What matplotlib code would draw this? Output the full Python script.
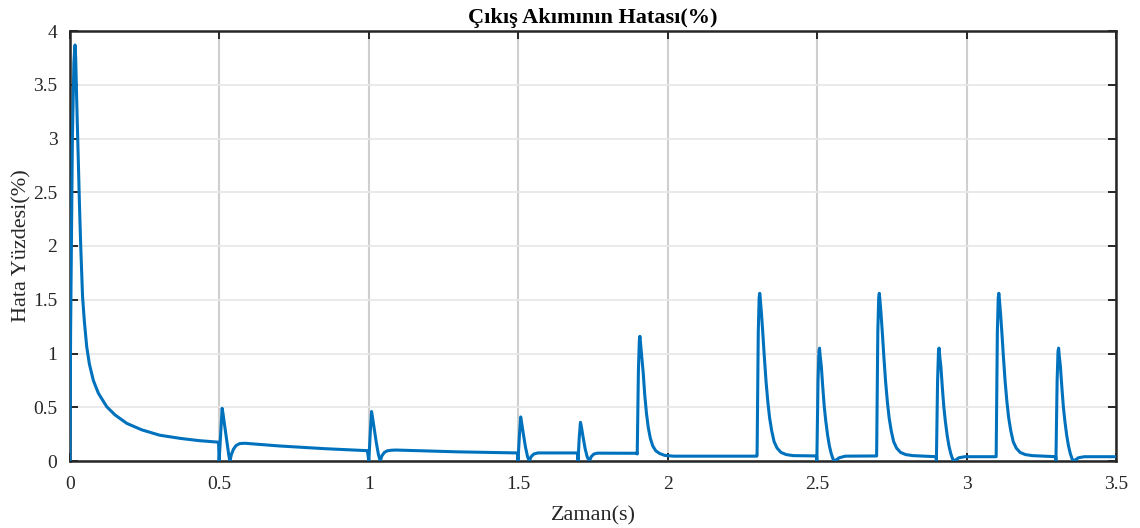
import matplotlib
matplotlib.use("Agg")
import matplotlib.pyplot as plt

# Time points (s) and error values (%)
time_s = [
    # start-up transient
    0.0, 0.002, 0.008, 0.013, 0.015, 0.017, 0.019, 0.022, 0.028, 0.032, 0.036, 0.042, 0.048,
    0.056, 0.065, 0.078, 0.095, 0.123, 0.15, 0.19, 0.24, 0.30, 0.37, 0.43, 0.497,
    # event at 0.5 s
    0.499, 0.505, 0.509, 0.512, 0.518, 0.525, 0.531, 0.535, 0.540, 0.547, 0.556, 0.568,
    0.585, 0.70, 0.85, 0.995,
    # event at 1.0 s
    1.000, 1.005, 1.009, 1.012, 1.018, 1.025, 1.032, 1.038, 1.044, 1.052, 1.062, 1.075,
    1.09, 1.30, 1.497,
    # event at 1.5 s
    1.499, 1.504, 1.508, 1.511, 1.517, 1.524, 1.531, 1.537, 1.543, 1.552, 1.565, 1.698,
    # event at 1.7 s
    1.700, 1.704, 1.708, 1.711, 1.717, 1.724, 1.731, 1.738, 1.744, 1.753, 1.765, 1.897,
    # event at 1.9 s
    1.898, 1.902, 1.905, 1.907, 1.909, 1.913, 1.918, 1.923, 1.929, 1.935, 1.942, 1.950,
    1.960, 1.973, 1.99, 2.02, 2.2, 2.298,
    # event at 2.3 s
    2.299, 2.303, 2.306, 2.308, 2.310, 2.314, 2.318, 2.323, 2.329, 2.335, 2.341, 2.348,
    2.356, 2.366, 2.379, 2.396, 2.42, 2.498,
    # event at 2.5 s
    2.499, 2.503, 2.506, 2.508, 2.510, 2.514, 2.519, 2.524, 2.529, 2.535, 2.541, 2.547,
    2.553, 2.558, 2.565, 2.574, 2.594, 2.698,
    # event at 2.7 s
    2.699, 2.703, 2.706, 2.708, 2.710, 2.714, 2.718, 2.723, 2.729, 2.735, 2.741, 2.748,
    2.756, 2.766, 2.779, 2.796, 2.82, 2.898,
    # event at 2.9 s
    2.899, 2.903, 2.906, 2.908, 2.910, 2.914, 2.919, 2.924, 2.929, 2.935, 2.941, 2.947,
    2.953, 2.958, 2.965, 2.974, 2.994, 3.098,
    # event at 3.1 s
    3.099, 3.103, 3.106, 3.108, 3.110, 3.114, 3.118, 3.123, 3.129, 3.135, 3.141, 3.148,
    3.156, 3.166, 3.179, 3.196, 3.22, 3.298,
    # event at 3.3 s
    3.299, 3.303, 3.306, 3.308, 3.310, 3.314, 3.319, 3.324, 3.329, 3.335, 3.341, 3.347,
    3.353, 3.358, 3.365, 3.374, 3.394, 3.5,
]
error_pct = [
    0.0, 1.2, 3.0, 3.7, 3.8, 3.87, 3.75, 3.4, 2.77, 2.35, 1.99, 1.53, 1.3,
    1.06, 0.9, 0.75, 0.63, 0.505, 0.43, 0.35, 0.29, 0.24, 0.21, 0.19, 0.175,
    0.0, 0.30, 0.49, 0.44, 0.32, 0.18, 0.06, 0.0, 0.06, 0.11, 0.145, 0.162,
    0.165, 0.14, 0.115, 0.096,
    0.0, 0.28, 0.46, 0.41, 0.30, 0.17, 0.06, 0.0, 0.05, 0.08, 0.095, 0.10,
    0.102, 0.085, 0.075,
    0.0, 0.25, 0.41, 0.36, 0.25, 0.13, 0.04, 0.0, 0.04, 0.065, 0.075, 0.075,
    0.0, 0.22, 0.36, 0.32, 0.22, 0.11, 0.035, 0.0, 0.04, 0.065, 0.073, 0.072,
    0.065, 0.85, 1.12, 1.16, 1.10, 0.98, 0.82, 0.62, 0.44, 0.31, 0.21, 0.14,
    0.095, 0.07, 0.052, 0.045, 0.045, 0.045,
    0.05, 1.2, 1.52, 1.56, 1.50, 1.36, 1.20, 0.98, 0.74, 0.55, 0.40, 0.28,
    0.18, 0.12, 0.08, 0.06, 0.05, 0.047,
    0.0, 0.75, 1.02, 1.05, 0.98, 0.88, 0.68, 0.50, 0.37, 0.24, 0.14, 0.07,
    0.02, 0.0, 0.012, 0.03, 0.045, 0.047,
    0.047, 1.2, 1.52, 1.56, 1.50, 1.36, 1.20, 0.98, 0.74, 0.55, 0.40, 0.28,
    0.18, 0.12, 0.08, 0.06, 0.05, 0.04,
    0.0, 0.75, 1.02, 1.05, 0.98, 0.88, 0.68, 0.50, 0.37, 0.24, 0.14, 0.07,
    0.02, 0.0, 0.012, 0.03, 0.04, 0.04,
    0.04, 1.2, 1.52, 1.56, 1.50, 1.36, 1.20, 0.98, 0.74, 0.55, 0.40, 0.28,
    0.18, 0.12, 0.08, 0.06, 0.05, 0.04,
    0.0, 0.75, 1.02, 1.05, 0.98, 0.88, 0.68, 0.50, 0.37, 0.24, 0.14, 0.07,
    0.02, 0.0, 0.012, 0.03, 0.04, 0.04,
]

x_ticks = [0, 0.5, 1, 1.5, 2, 2.5, 3, 3.5]
x_tick_labels = ["0", "0.5", "1", "1.5", "2", "2.5", "3", "3.5"]
y_ticks = [0, 0.5, 1, 1.5, 2, 2.5, 3, 3.5, 4]
y_tick_labels = ["0", "0.5", "1", "1.5", "2", "2.5", "3", "3.5", "4"]

title_text = "Çıkış Akımının Hatası(%)"
x_label = "Zaman(s)"
y_label = "Hata Yüzdesi(%)"

plt.rcParams["font.family"] = ["Liberation Serif", "DejaVu Serif"]

fig = plt.figure(figsize=(11.4, 5.28), dpi=100)
ax = fig.add_axes([70 / 1140, 1 - 461 / 528, (1116 - 70) / 1140, (461 - 31) / 528])

ax.plot(time_s, error_pct, color="#0072BD", linewidth=2.2, zorder=3,
        solid_joinstyle="round")

ax.set_xlim(0, 3.5)
ax.set_ylim(0, 4)
ax.set_xticks(x_ticks)
ax.set_xticklabels(x_tick_labels)
ax.set_yticks(y_ticks)
ax.set_yticklabels(y_tick_labels)

ax.xaxis.grid(True, color="#cfcfcf", linewidth=1.5, zorder=0)
ax.yaxis.grid(True, color="#e8e8e8", linewidth=1.3, zorder=0)
ax.set_axisbelow(True)

for sp in ax.spines.values():
    sp.set_color("#262626")
    sp.set_linewidth(1.8)

ax.tick_params(direction="in", top=True, right=True, length=6, width=1.4,
               colors="#262626", labelsize=14)
ax.tick_params(axis="x", pad=11)
ax.tick_params(axis="y", pad=9)

ax.set_title(title_text, fontsize=16, fontweight="bold", pad=6, color="black")
ax.set_xlabel(x_label, fontsize=16, labelpad=9, color="#262626")
ax.set_ylabel(y_label, fontsize=16, labelpad=1, color="#262626")

fig.savefig("out.png", dpi=100)
